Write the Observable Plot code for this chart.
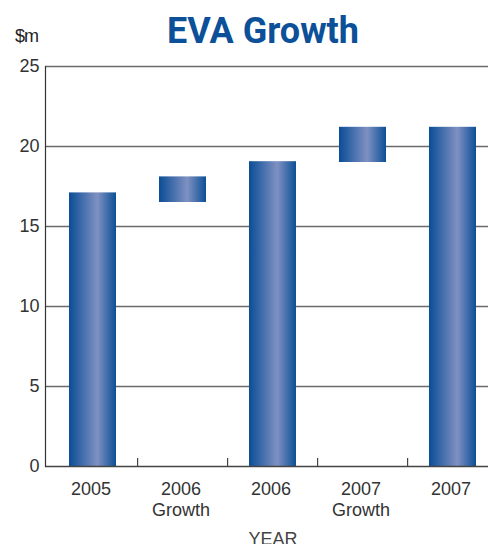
<!DOCTYPE html>
<html>
<head>
<meta charset="utf-8">
<script src="https://cdn.jsdelivr.net/npm/d3@7"></script>
<script src="https://cdn.jsdelivr.net/npm/@observablehq/plot@0.6"></script>
<style>
  html, body { margin: 0; padding: 0; background: #fff; }
  #wrap { position: relative; width: 488px; height: 544px; overflow: hidden; }
  #title { position: absolute; left: 0; width: 526px; text-align: center;
           font-family: Roboto, "DejaVu Sans", sans-serif; font-weight: 700; font-size: 36px;
           color: #0b5098; line-height: 1; top: 13px; }
  #unit { position: absolute; left: 15px; top: 26px; font-family: "Liberation Sans", Arial, sans-serif;
          font-size: 18px; color: #222; letter-spacing: -1px; }
  #chart { position: absolute; left: 0; top: 50px; }
</style>
</head>
<body>
<div id="wrap">
  <div id="title">EVA Growth</div>
  <div id="unit">$m</div>
  <div id="chart"></div>
</div>
<script>
const categories = ["2005", "2006 Growth", "2006", "2007 Growth", "2007"];
const tickLabels = ["2005", "2006\nGrowth", "2006", "2007\nGrowth", "2007"];
const lows = [0, 16.5, 0, 19.0, 0];
const highs = [17.1, 18.1, 19.05, 21.2, 21.2];
const yTicks = [0, 5, 10, 15, 20, 25];

const rows = categories.map((c, i) => ({cat: c, low: lows[i], high: highs[i], label: tickLabels[i]}));

const xRange = [45, 499];
const step = (xRange[1] - xRange[0]) / categories.length;

const plot = Plot.plot({
  width: 488,
  height: 494,
  marginLeft: 45,
  marginRight: 0,
  marginTop: 16,
  marginBottom: 78,
  style: {fontFamily: "'Liberation Sans', Arial, sans-serif", fontSize: "18px", color: "#444", overflow: "hidden"},
  x: {domain: categories, range: xRange, paddingInner: 0.48, paddingOuter: 0.24, axis: null},
  y: {domain: [0, 25], axis: null},
  marks: [
    Plot.gridY(yTicks.slice(1), {stroke: "#6a6a6a", strokeOpacity: 1, strokeWidth: 1.5}),
    Plot.barY(rows, {x: "cat", y1: "low", y2: "high", fill: "url(#barGrad)"}),
    Plot.ruleY([0], {stroke: "#444", strokeWidth: 1.5}),
    Plot.frame({anchor: "left", stroke: "#333", strokeWidth: 1.2}),
    Plot.ruleX(categories.slice(1), {x: d => d, y1: 0, y2: 0.5, dx: -step / 2, stroke: "#444", strokeWidth: 1.2}),
    Plot.axisY(yTicks, {tickSize: 0, tickPadding: 6, fontSize: 18, fill: "#333", label: null}),
    Plot.text(rows, {x: "cat", y: 0, text: "label", dy: 14, dx: -2, lineAnchor: "top", lineHeight: 1.15, fontSize: 18, fill: "#333"}),
    Plot.text(["YEAR"], {x: () => "2006", y: 0, text: d => d, dy: 66, lineAnchor: "top", fontSize: 18, fill: "#444"})
  ]
});

const defs = d3.select(plot).insert("defs", ":first-child");
const grad = defs.append("linearGradient").attr("id", "barGrad")
  .attr("x1", "0").attr("x2", "1").attr("y1", "0").attr("y2", "0");
grad.append("stop").attr("offset", "0").attr("stop-color", "#0a4d96");
grad.append("stop").attr("offset", "0.6").attr("stop-color", "#7f91c2");
grad.append("stop").attr("offset", "1").attr("stop-color", "#0c4f96");

document.getElementById("chart").appendChild(plot);
</script>
</body>
</html>
